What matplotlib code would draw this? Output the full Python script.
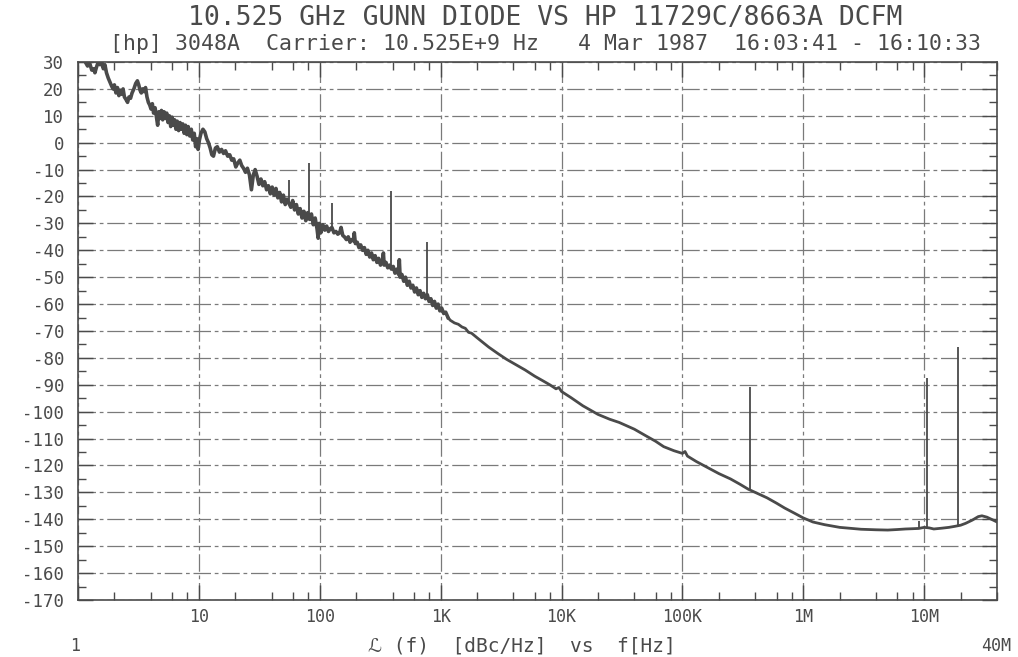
#!/usr/bin/env python3
"""
Phase noise plot of a 10.525 GHz Gunn diode, redrawn from an HP 3048A plotter sheet.
"""

import matplotlib.pyplot as plt
import numpy as np

# noisy close-in part, 1 Hz .. 1.2 kHz (zig-zag of the trace)
low_freq = [
    1.15, 1.20, 1.25, 1.30, 1.35, 1.38, 1.42, 1.47, 1.52, 1.57, 1.62, 1.67, 1.72, 1.78,
    1.84, 1.90, 1.95, 2.00, 2.06, 2.12, 2.18, 2.24, 2.30, 2.36, 2.42, 2.50, 2.57, 2.64,
    2.72, 2.80, 2.90, 3.00, 3.10, 3.18, 3.26, 3.34, 3.42, 3.52, 3.62, 3.72, 3.82, 3.92,
    4.02, 4.12, 4.22, 4.34, 4.46, 4.56, 4.66, 4.78, 4.90, 5.02, 5.15, 5.28, 5.42, 5.56,
    5.70, 5.85, 6.00, 6.15, 6.30, 6.46, 6.62, 6.80, 6.98, 7.16, 7.35, 7.55, 7.75, 7.95,
    8.15, 8.40, 8.65, 8.90, 9.15, 9.40, 9.60, 9.85, 10.1, 10.4, 10.8, 11.2, 11.6, 12.0,
    12.4, 12.8, 13.2, 13.7, 14.2, 14.8, 15.4, 16.0, 16.6, 17.3, 18.0, 18.7, 19.4, 20.2,
    21.0, 21.8, 22.6, 23.4, 24.3, 25.2, 26.2, 27.2, 28.2, 29.2, 30.3, 31.4, 32.6, 33.8,
    35.0, 36.3, 37.6, 39.0, 40.4, 41.9, 43.4, 45.0, 46.6, 48.3, 50.0, 51.8, 53.6, 55.6,
    57.6, 59.7, 61.9, 64.1, 66.4, 68.8, 71.3, 73.9, 76.6, 79.4, 82.3, 85.3, 88.4, 91.6,
    94.9, 97.0, 99.0, 102, 106, 110, 114, 118, 122, 126, 131, 136, 141, 146,
    150, 155, 160, 166, 172, 178, 184, 190, 193, 197, 204, 211, 218, 226,
    234, 242, 250, 259, 268, 277, 287, 297, 307, 318, 329, 336, 341, 353,
    365, 378, 391, 405, 419, 434, 449, 455, 462, 478, 495, 512, 530, 549,
    568, 588, 609, 630, 652, 675, 699, 723, 749, 775, 802, 830, 859, 889,
    920, 952, 985, 1020, 1060, 1100, 1150,
]
low_level = [
    30.0, 28.5, 29.5, 27.0, 27.5, 26.0, 28.0, 30.0, 29.0, 30.0, 27.5, 29.0, 26.0, 24.0,
    22.5, 21.0, 20.0, 21.5, 18.5, 20.5, 17.5, 19.5, 18.0, 20.0, 17.0, 16.0, 15.0, 17.0,
    16.5, 18.5, 20.0, 22.0, 23.0, 21.5, 19.5, 18.5, 20.0, 19.0, 20.5, 17.0, 15.0, 14.0,
    12.5, 14.5, 11.0, 13.0, 9.5, 6.5, 11.5, 9.0, 12.0, 8.5, 11.5, 9.0, 11.0, 7.5,
    10.0, 6.0, 9.5, 6.5, 8.5, 5.0, 8.0, 4.5, 7.5, 5.0, 7.0, 3.5, 6.5, 3.0,
    6.0, 2.5, 5.0, 1.0, 3.5, -1.5, 1.5, -2.5, 1.0, 3.5, 5.0, 4.0, 1.5, 0.0,
    -2.0, -4.5, -5.0, -2.0, -1.5, -3.5, -2.5, -4.0, -3.0, -5.0, -4.5, -6.5, -6.0, -9.0,
    -7.5, -6.5, -8.5, -9.5, -11.0, -9.5, -12.0, -17.5, -12.0, -10.0, -12.5, -15.5, -13.5, -16.0,
    -14.5, -17.5, -16.0, -19.0, -16.5, -19.5, -17.0, -20.5, -18.5, -22.0, -19.5, -23.0, -21.0, -22.5,
    -24.0, -21.5, -25.0, -23.0, -26.5, -24.5, -28.0, -25.5, -29.0, -26.0, -28.5, -26.5, -30.5, -28.0,
    -32.0, -35.5, -30.0, -33.5, -30.5, -32.5, -31.0, -33.0, -32.0, -31.5, -33.5, -33.0, -34.0, -33.5,
    -31.5, -34.5, -35.0, -36.0, -35.0, -37.0, -36.0, -36.5, -33.5, -37.5, -37.0, -39.0, -38.0, -40.0,
    -39.0, -41.5, -40.0, -42.5, -41.0, -43.5, -42.0, -44.5, -43.0, -45.5, -44.0, -41.0, -45.5, -44.5,
    -46.5, -45.5, -47.0, -46.0, -48.5, -47.0, -49.0, -43.5, -50.0, -49.0, -51.5, -50.0, -53.0, -51.5,
    -54.0, -53.0, -55.5, -54.0, -56.5, -55.0, -57.5, -56.0, -58.0, -56.5, -59.0, -58.0, -60.5, -59.0,
    -61.5, -60.0, -62.5, -61.5, -63.5, -63.0, -65.0,
]

# smooth part of the trace, 1.2 kHz .. 40 MHz
high_freq = [
    1.15e3, 1.2e3, 1.3e3, 1.4e3, 1.5e3, 1.6e3, 1.7e3, 1.8e3, 2.0e3, 2.2e3, 2.5e3, 3.0e3, 3.5e3,
    4.0e3, 5.0e3, 6.0e3, 7.0e3, 8.0e3, 9.0e3, 9.5e3, 1.0e4, 1.2e4, 1.5e4, 2.0e4, 2.5e4,
    3.0e4, 4.0e4, 5.0e4, 6.0e4, 7.0e4, 8.5e4, 1.0e5, 1.05e5, 1.1e5, 1.3e5, 1.5e5, 2.0e5,
    2.5e5, 3.0e5, 3.5e5, 4.0e5, 5.0e5, 6.0e5, 7.0e5, 8.5e5, 1.0e6, 1.2e6, 1.5e6, 2.0e6,
    3.0e6, 4.0e6, 5.0e6, 6.0e6, 7.0e6, 8.0e6, 9.0e6, 1.0e7, 1.1e7, 1.2e7, 1.4e7, 1.6e7,
    1.8e7, 2.0e7, 2.2e7, 2.5e7, 2.8e7, 3.0e7, 3.3e7, 3.6e7, 4.0e7,
]
high_level = [
    -65.0, -66.0, -67.0, -67.5, -68.5, -69.0, -70.5, -70.8, -72.5, -74.0, -76.0, -78.5, -80.5,
    -82.0, -84.5, -86.8, -88.5, -90.0, -91.5, -91.0, -92.5, -94.8, -97.8, -101.0, -102.8,
    -104.0, -106.5, -109.0, -111.0, -113.0, -114.5, -115.5, -114.8, -116.5, -118.5, -120.0, -123.0,
    -125.0, -127.0, -128.8, -130.0, -132.0, -134.0, -135.8, -137.8, -139.5, -141.0, -142.0, -143.0,
    -143.7, -143.9, -144.0, -143.8, -143.6, -143.5, -143.4, -143.0, -143.2, -143.6, -143.3, -143.0,
    -142.6, -142.2, -141.5, -140.3, -139.0, -138.7, -139.2, -140.0, -141.0,
]

# discrete spurs: offset, trace level under the spur, spur top
spur_freq = [55.6, 82.0, 126.0, 389.0, 778.0, 3.6e5, 9.0e6, 1.06e7, 1.9e7]
spur_base = [-22.5, -27.0, -32.5, -46.0, -56.5, -129.0, -143.4, -142.8, -142.4]
spur_top = [-14.0, -7.5, -22.5, -18.0, -36.8, -90.8, -140.8, -87.5, -75.8]

decade_ticks = [1, 10, 100, 1e3, 1e4, 1e5, 1e6, 1e7]
decade_labels = ["", "10", "100", "1K", "10K", "100K", "1M", "10M"]

TITLE = "10.525 GHz GUNN DIODE VS HP 11729C/8663A DCFM"
SUBTITLE = "[hp] 3048A  Carrier: 10.525E+9 Hz   4 Mar 1987  16:03:41 - 16:10:33"
XLABEL = "\u2112 (f)  [dBc/Hz]  vs  f[Hz]"

INK = "#4a4a4a"
GRID = "#7a7a7a"
FONT = "DejaVu Sans Mono"

plt.rcParams["axes.unicode_minus"] = False
plt.rcParams["font.family"] = [FONT, "DejaVu Sans"]

W, H = 1018, 657
fig = plt.figure(figsize=(W / 100, H / 100), dpi=100)
ax = fig.add_axes([78 / W, 1 - 600 / H, (997 - 78) / W, (600 - 62) / H])

ax.set_xscale("log")
ax.set_xlim(1, 4e7)
ax.set_ylim(-170, 30)

ax.plot(low_freq, low_level, color=INK, lw=2.6, solid_joinstyle="round", zorder=3)
ax.plot(high_freq, high_level, color=INK, lw=2.0, solid_joinstyle="round", zorder=3)
ax.vlines(spur_freq, spur_base, spur_top, color=INK, lw=1.3, zorder=3)

ax.set_yticks(np.arange(-170, 31, 10))
ax.set_yticks(np.arange(-165, 30, 10), minor=True)
ax.set_xticks(decade_ticks)
ax.set_xticklabels(decade_labels)
minor_x = [m * d for d in decade_ticks for m in (2, 4, 6, 8) if m * d <= 4e7]
ax.set_xticks(minor_x, minor=True)
ax.xaxis.set_minor_formatter(plt.NullFormatter())

ax.grid(which="major", axis="both", color=GRID, lw=0.9, ls=(0, (14, 3, 3, 3)))
ax.tick_params(which="both", direction="in", top=True, right=True,
               color=INK, labelcolor=INK, labelsize=12.5)
ax.tick_params(which="major", length=11, width=1.0)
ax.tick_params(which="minor", length=6, width=1.0)
ax.tick_params(axis="y", pad=10)
ax.tick_params(axis="x", pad=6, labelsize=12)
for spine in ax.spines.values():
    spine.set_color(INK)
    spine.set_linewidth(1.2)

fig.text(545 / W, 1 - 18 / H, TITLE, ha="center", va="center", fontsize=19, color=INK)
fig.text(545 / W, 1 - 44 / H, SUBTITLE, ha="center", va="center", fontsize=15.5, color=INK)
fig.text(75 / W, 1 - 646 / H, "1", ha="center", va="center", fontsize=12, color=INK)
fig.text(996 / W, 1 - 646 / H, "40M", ha="center", va="center", fontsize=12, color=INK)
fig.text(522 / W, 1 - 646 / H, XLABEL, ha="center", va="center", fontsize=14, color=INK)

fig.savefig("out.png", dpi=100, facecolor="white")
plt.close(fig)
